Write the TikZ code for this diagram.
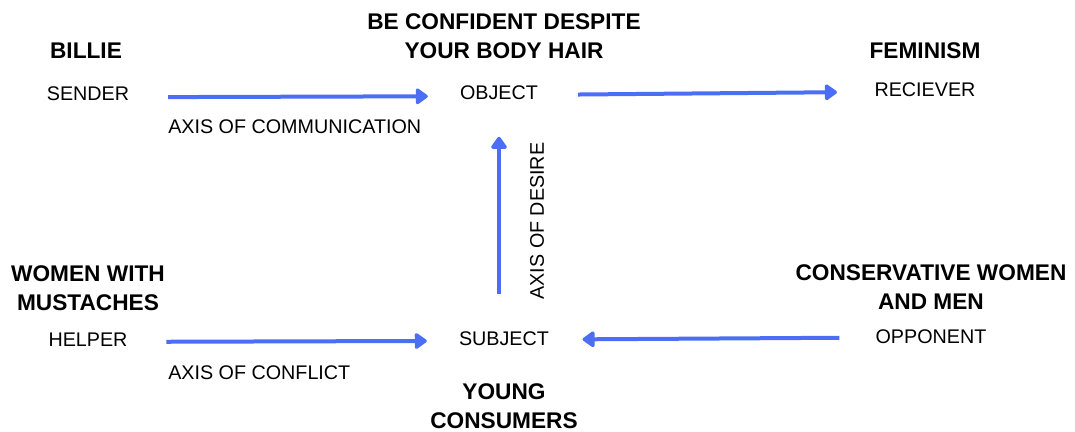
\documentclass[tikz,border=0pt]{standalone}
\usepackage{fontspec}
\setmainfont{Liberation Sans}
\usetikzlibrary{arrows.meta}

\definecolor{axisblue}{RGB}{76,110,245}

\tikzset{
	role/.style={inner sep=0, anchor=base, font=\fontsize{14.8}{17}\selectfont},
	actant/.style={inner sep=0, anchor=base, align=center, font=\bfseries\fontsize{17}{21.75}\selectfont},
	axislabel/.style={inner sep=0, anchor=base west, font=\fontsize{14.8}{17}\selectfont},
	axis/.style={color=axisblue, line width=3pt, -{Triangle[length=10pt, width=13.5pt, round]}}
}

\begin{document}
\begin{tikzpicture}[x=0.75pt, y=-0.75pt]

\useasboundingbox (0,0) rectangle (1075,432);

% roles
\node[role] (sender) at (88,100) {SENDER};
\node[role] (object) at (499,99) {OBJECT};
\node[role] (receiver) at (925,96) {RECIEVER};
\node[role] (helper) at (88,346) {HELPER};
\node[role] (subject) at (504,345) {SUBJECT};
\node[role] (opponent) at (931,343) {OPPONENT};

% who fills each role (base = last line)
\node[actant] (billie) at (86,58) {BILLIE};
\node[actant] (confident) at (504,58) {BE CONFIDENT DESPITE\\YOUR BODY HAIR};
\node[actant] (feminism) at (925,58) {FEMINISM};
\node[actant] (mustaches) at (88,310) {WOMEN WITH\\MUSTACHES};
\node[actant] (consumers) at (504,428) {YOUNG\\CONSUMERS};
\node[actant] (conservative) at (931,309) {CONSERVATIVE WOMEN\\AND MEN};

% axes
\draw[axis, shorten <=29pt, shorten >=24pt] ([yshift=-3pt]sender.east) -- ([yshift=-3pt]object.west);
\draw[axis, shorten <=30pt, shorten >=28pt] ([yshift=-2pt]object.east) -- ([yshift=-2pt]receiver.west);
\draw[axis, shorten <=29pt, shorten >=24pt] ([yshift=-2pt]helper.east) -- ([yshift=-2pt]subject.west);
\draw[axis, shorten <=27pt, shorten >=25pt] ([yshift=-1pt]opponent.west) -- ([yshift=-1pt]subject.east);
\draw[axis, shorten <=28pt, shorten >=28pt] (subject.north -| object) -- (object.south);

\node[axislabel] (communication) at (168,133) {AXIS OF COMMUNICATION};
\node[axislabel] (conflict) at (168,379) {AXIS OF CONFLICT};
\node[role, rotate=90, anchor=center] (desire) at (537,221) {AXIS OF DESIRE};

\end{tikzpicture}
\end{document}
